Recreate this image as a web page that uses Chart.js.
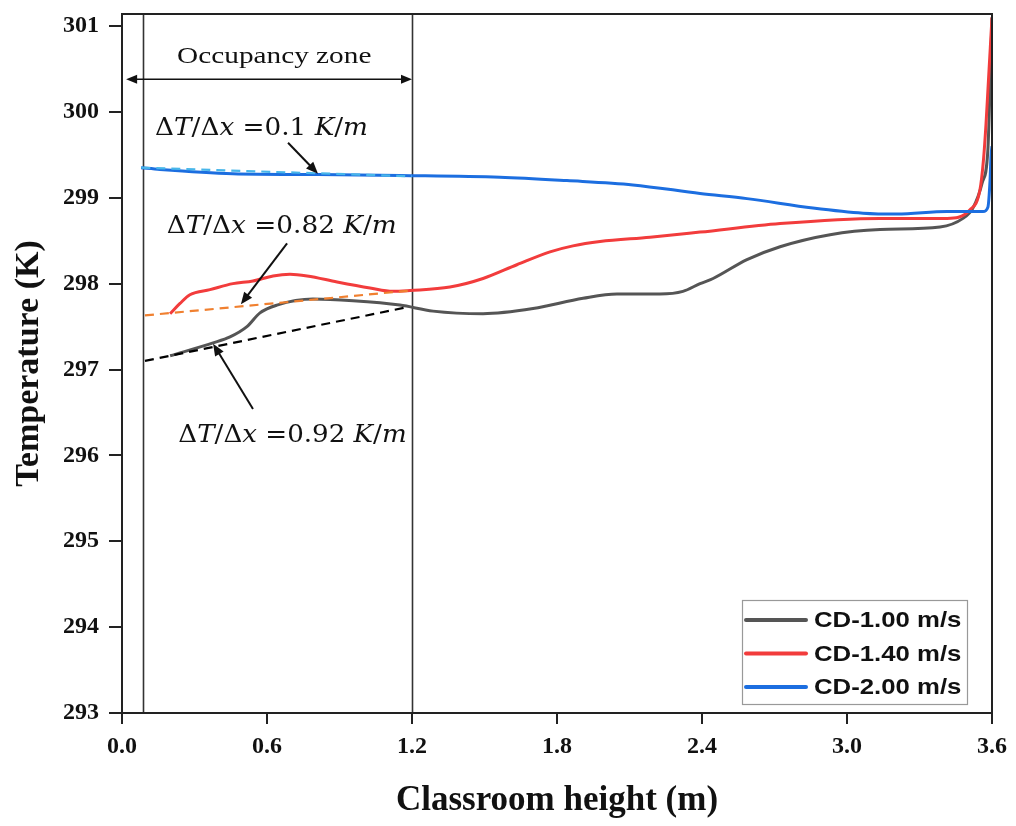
<!DOCTYPE html>
<html><head><meta charset="utf-8">
<script src="https://cdn.jsdelivr.net/npm/chart.js@4/dist/chart.umd.min.js"></script>
<style>html,body{margin:0;padding:0;background:#fff}#wrap{width:1016px;height:826px}</style>
</head><body><div id="wrap"><canvas id="c" width="1016" height="826"></canvas></div>
<script>
// ---------- data ----------
const seriesLabels = ['CD-1.00 m/s', 'CD-1.40 m/s', 'CD-2.00 m/s'];

const xCD100 = [0.199,0.377,0.447,0.517,0.571,0.641,0.790,0.956,1.150,1.287,1.494,1.701,1.908,2.048,2.226,2.321,2.392,2.446,2.586,2.723,2.930,3.137,3.385,3.480,3.521,3.559,3.583,3.592,3.600];
const yCD100 = [297.16,297.31,297.38,297.50,297.66,297.75,297.82,297.80,297.75,297.68,297.65,297.71,297.83,297.88,297.88,297.91,298.00,298.06,298.28,298.43,298.57,298.63,298.66,298.76,298.88,299.17,299.56,300.30,301.10];

const xCD140 = [0.199,0.240,0.281,0.364,0.459,0.542,0.625,0.695,0.766,0.890,1.026,1.121,1.192,1.357,1.494,1.634,1.771,1.866,1.978,2.185,2.392,2.723,3.137,3.414,3.509,3.550,3.565,3.575,3.585,3.593,3.600];
const yCD140 = [297.65,297.77,297.87,297.93,298.00,298.03,298.09,298.11,298.09,298.02,297.95,297.91,297.92,297.96,298.06,298.22,298.37,298.44,298.49,298.54,298.60,298.70,298.76,298.76,298.86,299.09,299.45,299.85,300.35,300.75,301.10];

const xCD200 = [0.079,0.157,0.459,0.811,1.150,1.564,1.841,2.114,2.392,2.586,2.859,3.066,3.207,3.414,3.563,3.583,3.592,3.596,3.600];
const yCD200 = [299.35,299.33,299.28,299.27,299.26,299.24,299.20,299.15,299.05,298.99,298.88,298.82,298.81,298.84,298.84,298.89,299.21,299.49,299.60];

// linear gradient fits in occupancy zone
const fitX200 = [0.080, 1.200];  const fitY200 = [299.35, 299.25];
const fitX140 = [0.095, 1.195];  const fitY140 = [297.63, 297.92];
const fitX100 = [0.095, 1.170];  const fitY100 = [297.10, 297.72];

const gradientValues = ['0.1', '0.82', '0.92'];
const zoneBounds = [0.085, 1.2];
const xTicks = [0, 0.6, 1.2, 1.8, 2.4, 3.0, 3.6];
const yTicks = [293, 294, 295, 296, 297, 298, 299, 300, 301];

// ---------- styles / layout ----------
const colors = ['#555555', '#f23c3c', '#1c6ee0'];
const fitColors = ['#000000', '#f08030', '#48b6ea'];
const SERIF = '"Liberation Serif", "Times New Roman", serif';
const MATH = '"DejaVu Serif", serif';
const SANS = '"Liberation Sans", Arial, sans-serif';

function pts(xs, ys) { return xs.map((x, i) => ({ x: x, y: ys[i] })); }

const datasets = [
  { data: pts(fitX200, fitY200), borderColor: fitColors[2], borderDash: [9, 6], borderWidth: 2.2, pointRadius: 0 },
  { data: pts(fitX140, fitY140), borderColor: fitColors[1], borderDash: [9, 6], borderWidth: 2.2, pointRadius: 0 },
  { data: pts(fitX100, fitY100), borderColor: fitColors[0], borderDash: [9, 6], borderWidth: 2.2, pointRadius: 0 },
  { label: seriesLabels[2], data: pts(xCD200, yCD200), borderColor: colors[2], borderWidth: 3, pointRadius: 0, cubicInterpolationMode: 'monotone' },
  { label: seriesLabels[1], data: pts(xCD140, yCD140), borderColor: colors[1], borderWidth: 3, pointRadius: 0, cubicInterpolationMode: 'monotone' },
  { label: seriesLabels[0], data: pts(xCD100, yCD100), borderColor: colors[0], borderWidth: 3, pointRadius: 0, cubicInterpolationMode: 'monotone' }
];

// annotation placement (data coordinates)
const mathLabels = [
  { v: gradientValues[0], x0: 0.137, x1: 1.018, y: 299.73 },
  { v: gradientValues[1], x0: 0.185, x1: 1.137, y: 298.59 },
  { v: gradientValues[2], x0: 0.233, x1: 1.178, y: 296.16 }
];
const arrows = [
  [0.687, 299.64, 0.811, 299.28],
  [0.683, 298.47, 0.492, 297.76],
  [0.542, 296.54, 0.377, 297.30]
];

function arrowHead(ctx, x1, y1, x2, y2, len, hw) {
  const a = Math.atan2(y2 - y1, x2 - x1);
  ctx.beginPath();
  ctx.moveTo(x2, y2);
  ctx.lineTo(x2 - len * Math.cos(a) + hw * Math.sin(a), y2 - len * Math.sin(a) - hw * Math.cos(a));
  ctx.lineTo(x2 - len * Math.cos(a) - hw * Math.sin(a), y2 - len * Math.sin(a) + hw * Math.cos(a));
  ctx.closePath();
  ctx.fill();
}

function drawMath(ctx, value, x, y, targetW, size) {
  const parts = [['Δ', ''], ['T', 'italic '], ['/', ''], ['Δ', ''], ['x', 'italic '], [' ', ''], ['=', ''],
    ...value.split('').map(c => [c, '']), [' ', ''], ['K', 'italic '], ['/', ''], ['m', 'italic ']];
  let nat = 0;
  const ws = parts.map(p => { ctx.font = p[1] + size + 'px ' + MATH; const w = ctx.measureText(p[0]).width; nat += w; return w; });
  const sx = targetW / nat;
  ctx.save();
  ctx.translate(x, y);
  ctx.scale(sx, 1);
  ctx.textBaseline = 'alphabetic';
  ctx.textAlign = 'left';
  let cx = 0;
  parts.forEach((p, i) => { ctx.font = p[1] + size + 'px ' + MATH; ctx.fillText(p[0], cx, 0); cx += ws[i]; });
  ctx.restore();
}

function stretchText(ctx, text, cx, cy, font, sx) {
  ctx.save();
  ctx.translate(cx, cy);
  ctx.scale(sx, 1);
  ctx.font = font;
  ctx.fillText(text, 0, 0);
  ctx.restore();
}

const decor = {
  id: 'decor',
  beforeDatasetsDraw(chart) {
    const { ctx, chartArea: a, scales: { x } } = chart;
    ctx.save();
    ctx.strokeStyle = '#333';
    ctx.lineWidth = 1.6;
    zoneBounds.forEach(b => {
      const px = Math.round(x.getPixelForValue(b)) + 0.5;
      ctx.beginPath(); ctx.moveTo(px, a.top); ctx.lineTo(px, a.bottom); ctx.stroke();
    });
    ctx.restore();
  },
  afterDatasetsDraw(chart) {
    const { ctx, chartArea: a, scales: { x, y } } = chart;
    ctx.save();
    // frame
    ctx.strokeStyle = '#222';
    ctx.lineWidth = 2;
    ctx.strokeRect(a.left, a.top, a.right - a.left, a.bottom - a.top);
    // occupancy zone double arrow
    const ay = y.getPixelForValue(300.38);
    const ax1 = x.getPixelForValue(0.017), ax2 = x.getPixelForValue(1.2);
    ctx.fillStyle = '#111'; ctx.strokeStyle = '#111'; ctx.lineWidth = 1.6;
    ctx.beginPath(); ctx.moveTo(ax1 + 6, ay); ctx.lineTo(ax2 - 6, ay); ctx.stroke();
    arrowHead(ctx, ax2, ay, ax1, ay, 11, 4.5);
    arrowHead(ctx, ax1, ay, ax2, ay, 11, 4.5);
    ctx.textAlign = 'center'; ctx.textBaseline = 'middle';
    stretchText(ctx, 'Occupancy zone', x.getPixelForValue(0.63), y.getPixelForValue(300.64), '24px ' + SERIF, 1.22);
    // math labels
    ctx.fillStyle = '#111';
    mathLabels.forEach(m => {
      const x0 = x.getPixelForValue(m.x0), x1 = x.getPixelForValue(m.x1);
      drawMath(ctx, m.v, x0, y.getPixelForValue(m.y), x1 - x0, 24);
    });
    // pointer arrows
    ctx.lineWidth = 2;
    arrows.forEach(r => {
      const p1 = [x.getPixelForValue(r[0]), y.getPixelForValue(r[1])];
      const p2 = [x.getPixelForValue(r[2]), y.getPixelForValue(r[3])];
      const ang = Math.atan2(p2[1] - p1[1], p2[0] - p1[0]);
      ctx.beginPath(); ctx.moveTo(p1[0], p1[1]); ctx.lineTo(p2[0] - 8 * Math.cos(ang), p2[1] - 8 * Math.sin(ang)); ctx.stroke();
      arrowHead(ctx, p1[0], p1[1], p2[0], p2[1], 12, 5);
    });
    // legend
    const bx = a.right - 250, by = a.bottom - 113, bw = 225, bh = 104;
    ctx.strokeStyle = '#999'; ctx.lineWidth = 1.2;
    ctx.strokeRect(bx + 0.5, by + 0.5, bw, bh);
    ctx.textAlign = 'left'; ctx.textBaseline = 'middle';
    ctx.lineCap = 'round';
    [0, 1, 2].forEach(i => {
      const ly = by + 20 + i * 33.5;
      ctx.strokeStyle = colors[i]; ctx.lineWidth = 4;
      ctx.beginPath(); ctx.moveTo(bx + 4, ly); ctx.lineTo(bx + 64, ly); ctx.stroke();
      ctx.fillStyle = '#111';
      stretchText(ctx, seriesLabels[i], bx + 72, ly + 1, 'bold 22px ' + SANS, 1.17);
    });
    ctx.restore();
  }
};

new Chart(document.getElementById('c'), {
  type: 'line',
  data: { datasets: datasets },
  plugins: [decor],
  options: {
    responsive: false,
    animation: false,
    devicePixelRatio: 1,
    layout: { padding: { top: 14, right: 24, left: 0, bottom: 0 } },
    plugins: { legend: { display: false }, tooltip: { enabled: false } },
    scales: {
      x: {
        type: 'linear', min: 0, max: 3.6,
        afterBuildTicks: s => { s.ticks = xTicks.map(v => ({ value: v })); },
        afterFit: s => { s.height = 113; },
        ticks: { font: { family: SERIF, size: 24, weight: 'bold' }, color: '#111', padding: 8, maxRotation: 0, autoSkip: false, callback: v => Number(v).toFixed(1) },
        grid: { drawOnChartArea: false, drawTicks: true, tickLength: 11, color: '#222', lineWidth: 2 },
        border: { display: true, color: '#222', width: 2 },
        title: { display: true, text: 'Classroom height (m)', font: { family: SERIF, size: 35, weight: 'bold' }, color: '#111', padding: { top: 0, bottom: 4 } }
      },
      y: {
        type: 'linear', min: 293, max: 301.14,
        afterBuildTicks: s => { s.ticks = yTicks.map(v => ({ value: v })); },
        afterFit: s => { s.width = 122; },
        ticks: { font: { family: SERIF, size: 24, weight: 'bold', lineHeight: 0.3 }, color: '#111', padding: 10, callback: v => String(v) },
        grid: { drawOnChartArea: false, drawTicks: true, tickLength: 13, color: '#222', lineWidth: 2 },
        border: { display: true, color: '#222', width: 2 },
        title: { display: true, text: 'Temperature (K)', font: { family: SERIF, size: 34, weight: 'bold' }, color: '#111', padding: { top: 9, bottom: 0 } }
      }
    }
  }
});
</script></body></html>
